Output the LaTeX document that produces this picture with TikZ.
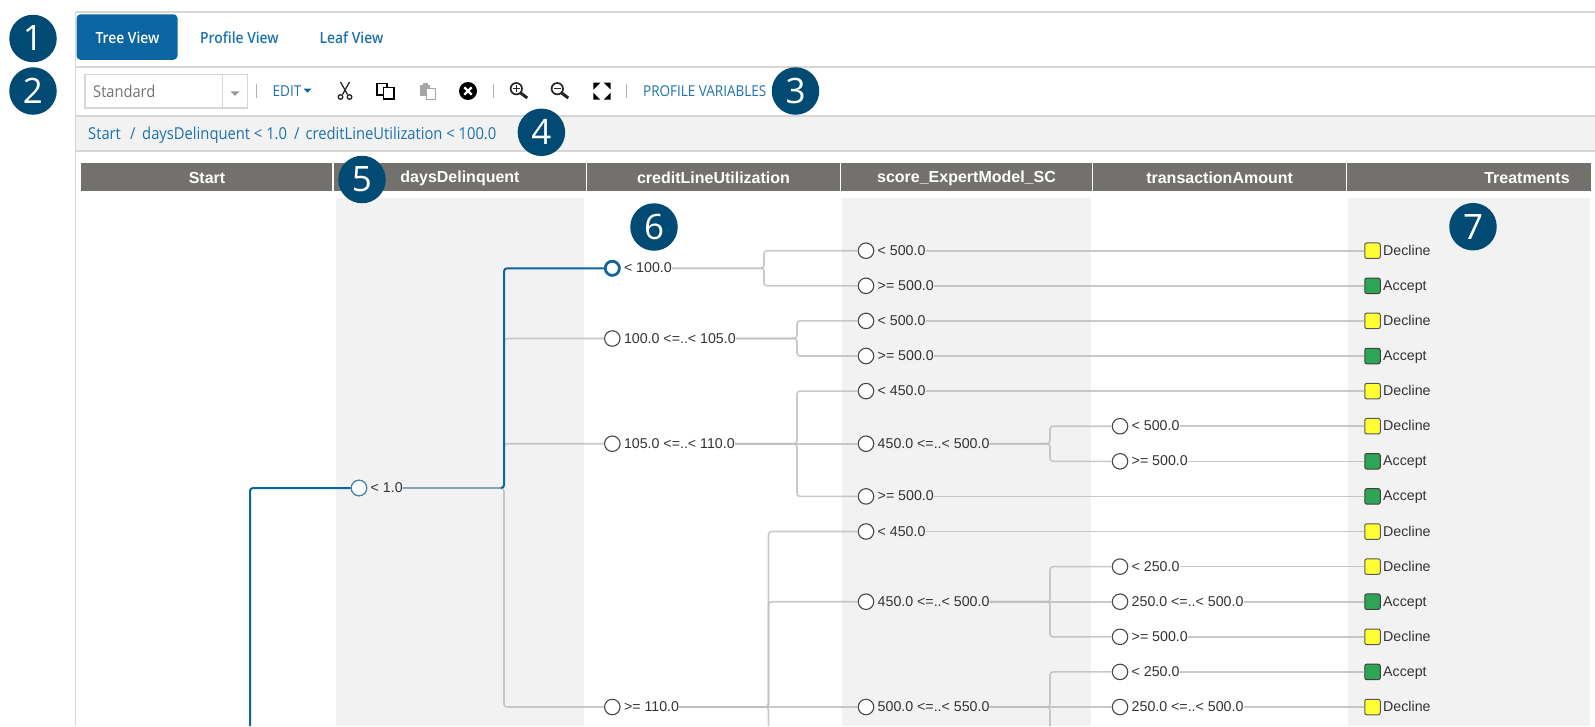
\documentclass[tikz,border=0pt]{standalone}
\usepackage{fontspec}
\usetikzlibrary{calc}
\setmainfont{Liberation Sans}
\newfontfamily\uif[FakeStretch=0.9]{Open Sans}
\newfontfamily\uib[FakeStretch=0.9]{Open Sans Semibold}
\newfontfamily\uir[FakeStretch=0.9]{Open Sans}
\newfontfamily\badgef{Open Sans}
\definecolor{uiblue}{HTML}{0B65A0}
\definecolor{lnk}{HTML}{1B72AB}
\definecolor{badge}{HTML}{004A73}
\definecolor{hdr}{HTML}{73716E}
\definecolor{panel}{HTML}{F2F2F2}
\definecolor{sep}{HTML}{D6D6D6}
\definecolor{ylw}{HTML}{FFFF33}
\definecolor{grn}{HTML}{2EA555}
\tikzset{
  circ/.style={circle,draw=black!72,line width=1.1pt,fill=white,minimum size=15.5pt,inner sep=0pt},
  lab/.style={anchor=west,inner sep=0pt,text=black!80,font=\fontsize{14.2}{16}\selectfont,text height=10pt,text depth=1pt},
  sqr/.style={rectangle,rounded corners=2pt,line width=1pt,minimum size=15.5pt,inner sep=0pt},
  decl/.style={sqr,draw=black!65,fill=ylw},
  acc/.style={sqr,draw=black!75,fill=grn},
  conn/.style={draw=black!25,line width=1.6pt,opacity=.85,rounded corners=3pt},
  hlconn/.style={draw=uiblue,line width=2pt,rounded corners=3pt},
  hdrbox/.style={fill=hdr,text=white,inner sep=0pt,font=\bfseries\fontsize{16}{18}\selectfont},
  badgenode/.style={circle,fill=badge,text=white,minimum size=47.5pt,inner sep=0pt,font=\badgef\fontsize{35}{35}\selectfont},
  tabtext/.style={inner sep=0pt,font=\uib\fontsize{15.4}{17}\selectfont},
  crumb/.style={anchor=west,inner sep=0pt,text=lnk,font=\uif\fontsize{16.4}{18}\selectfont,text height=11pt,text depth=3pt},
  tool/.style={inner sep=0pt,text=lnk,font=\uir\fontsize{15}{17}\selectfont},
  rulel/.style={draw=sep,line width=1.5pt},
  vdiv/.style={draw=black!30,line width=.8pt}
}
\newcommand\tn[4]{\node[circ] (n#1) at (#2,#3) {};\node[lab] (l#1) at (#2+11.5,#3) {#4};}
\newcommand\leaf[4]{\node[#2] (q#1) at (1372.5,#3) {};\node[lab] (t#1) at (1383,#3) {#4};}
\newcommand\hd[3]{\node[hdrbox,minimum width=#2-#1,minimum height=28pt] (#3) at ({(#1+#2)/2},177.3) {};}
\newcommand\brk[3]{\draw[conn] (l#1.east) -- (l#1.east -| #2) -- (#2 |- n#3.west) -- (n#3.west);}
\newcommand\str[2]{\draw[conn] (l#1.east) -- (#2.west);}
\begin{document}
\begin{tikzpicture}[x=1pt,y=-1pt]
\useasboundingbox (0,0) rectangle (1595,726);
\clip (0,0) rectangle (1595,726);
% panels
\fill[panel] (336,198) rectangle (584,726);
\fill[panel] (842,198) rectangle (1090.5,726);
\fill[panel] (1348,198) rectangle (1590,726);
\fill[panel] (75,116) rectangle (1595,151);
% rules
\draw[draw=sep,line width=1pt] (75,12) -- (75,726);
\draw[rulel] (75,12) -- (1595,12);
\draw[rulel] (75,67) -- (1595,67);
\draw[rulel] (75,116) -- (1595,116);
\draw[rulel] (75,151) -- (1595,151);
% tabs
\node[fill=uiblue,rounded corners=4pt,minimum width=101pt,minimum height=45.5pt,inner sep=0pt] (tabbox) at (127,37) {};
\node[tabtext,text=white] (tab1) at (127.5,37.5) {Tree View};
\node[tabtext,text=lnk] (tab2) at (239.5,37.5) {Profile View};
\node[tabtext,text=lnk] (tab3) at (351.5,37.5) {Leaf View};
% combobox
\draw[draw=sep,line width=1.3pt] (85,74.5) rectangle (247.5,108);
\draw[draw=sep,line width=1pt] (222.7,74.5) -- (222.7,108);
\node[anchor=west,inner sep=0pt,text=black!55,font=\uir\fontsize{16.3}{18}\selectfont] (combo) at (93,91.5) {Standard};
\fill[black!40] (230.5,91.3) -- (239.5,91.3) -- (235,95.8) -- cycle;
\draw[vdiv] (256.3,84) -- (256.3,98.3);
\node[tool,anchor=west] (edit) at (272.5,91) {EDIT};
\fill[uiblue] (303.5,88.7) -- (311.5,88.7) -- (307.5,92.7) -- cycle;
% scissors
\begin{scope}[line width=1.3pt,black!85]
\draw (340.5,82) -- (347.5,94.5);
\draw (349.5,82) -- (342.5,94.5);
\draw (340.5,97) circle (2.3);
\draw (349.5,97) circle (2.3);
\end{scope}
% copy
\draw[black,line width=1.4pt,fill=white] (377,83.5) rectangle (387,95);
\draw[black,line width=1.4pt,fill=white] (383.5,87.5) rectangle (394,99);
% paste
\fill[black!35] (420,85) rectangle (430,95.5);
\fill[black!35] (423,82.8) rectangle (427.5,86);
\draw[black!35,line width=1pt,fill=white] (426,88.7) rectangle (435,99.3);
% remove
\fill[black] (468,91) circle (9);
\draw[white,line width=2.4pt] (464.3,87.3) -- (471.7,94.7) (464.3,94.7) -- (471.7,87.3);
\draw[vdiv] (493,84) -- (493,98.3);
% zoom in
\draw[black!85,line width=1.7pt] (516.3,88.7) circle (5.7);
\draw[black!85,line width=3pt] (520.6,93) -- (527.3,98);
\draw[black!85,line width=1.2pt] (513,88.7) -- (519.6,88.7) (516.3,85.4) -- (516.3,92);
% zoom out
\draw[black!85,line width=1.7pt] (557.3,88.7) circle (5.7);
\draw[black!85,line width=3pt] (561.6,93) -- (568.3,98);
\draw[black!85,line width=1.2pt] (554,88.7) -- (560.6,88.7);
% fullscreen
\fill[black] (593.3,82.7) -- (600.3,82.7) -- (593.3,89.7) -- cycle;
\fill[black] (610.7,82.7) -- (603.7,82.7) -- (610.7,89.7) -- cycle;
\fill[black] (593.3,99.7) -- (600.3,99.7) -- (593.3,92.7) -- cycle;
\fill[black] (610.7,99.7) -- (603.7,99.7) -- (610.7,92.7) -- cycle;
\draw[vdiv] (626.6,84) -- (626.6,98.3);
\node[tool,anchor=west] (pv) at (643,91) {PROFILE VARIABLES};
% breadcrumb
\node[crumb] (c1) at (88,135.5) {Start};
\node[crumb] (c2) at (130,135.5) {/};
\node[crumb] (c3) at (142,135.5) {daysDelinquent < 1.0};
\node[crumb] (c4) at (294,135.5) {/};
\node[crumb] (c5) at (305.4,135.5) {creditLineUtilization < 100.0};
% headers
\hd{80.5}{332}{h1}
\hd{333.7}{585.8}{h2}
\hd{586.8}{840}{h3}
\hd{841}{1092.3}{h4}
\hd{1093.3}{1346}{h5}
\hd{1347.3}{1591}{h6}
\node[hdrbox,fill=none] (ht1) at (207,178) {Start};
\node[hdrbox,fill=none] (ht2) at (460,178) {daysDelinquent};
\node[hdrbox,fill=none] (ht3) at (713.5,178) {creditLineUtilization};
\node[hdrbox,fill=none] (ht4) at (966.5,178) {score\_ExpertModel\_SC};
\node[hdrbox,fill=none] (ht5) at (1219.6,178) {transactionAmount};
\node[hdrbox,fill=none] (ht6) at (1527,178) {Treatments};
% trunks and free ends
\coordinate (tA) at (504,0);
\coordinate (tB) at (764,0);
\coordinate (tC) at (797,0);
\coordinate (tD) at (768.5,0);
\coordinate (tE) at (1050,0);
\coordinate (startend) at (250,726);
\coordinate (endD) at (768.5,726);
\coordinate (endE) at (1050,726);
% tree nodes
\tn{d}{359}{488}{< 1.0}
\tn{c1}{612.3}{268.3}{< 100.0}
\tn{c2}{612.3}{338.5}{100.0 <=..< 105.0}
\tn{c3}{612.3}{443.7}{105.0 <=..< 110.0}
\tn{c4}{612.3}{707}{>= 110.0}
\tn{s0}{866}{250.7}{< 500.0}
\tn{s1}{866}{285.8}{>= 500.0}
\tn{s2}{866}{320.9}{< 500.0}
\tn{s3}{866}{356}{>= 500.0}
\tn{s4}{866}{391.1}{< 450.0}
\tn{s5}{866}{443.7}{450.0 <=..< 500.0}
\tn{s7}{866}{496.4}{>= 500.0}
\tn{s8}{866}{531.5}{< 450.0}
\tn{s9}{866}{601.7}{450.0 <=..< 500.0}
\tn{s10}{866}{707}{500.0 <=..< 550.0}
\tn{x5}{1120}{426.2}{< 500.0}
\tn{x6}{1120}{461.3}{>= 500.0}
\tn{x9}{1120}{566.6}{< 250.0}
\tn{x10}{1120}{601.7}{250.0 <=..< 500.0}
\tn{x11}{1120}{636.8}{>= 500.0}
\tn{x12}{1120}{671.9}{< 250.0}
\tn{x13}{1120}{707}{250.0 <=..< 500.0}
\leaf{0}{decl}{250.7}{Decline}
\leaf{1}{acc}{285.8}{Accept}
\leaf{2}{decl}{320.9}{Decline}
\leaf{3}{acc}{356}{Accept}
\leaf{4}{decl}{391.1}{Decline}
\leaf{5}{decl}{426.2}{Decline}
\leaf{6}{acc}{461.3}{Accept}
\leaf{7}{acc}{496.4}{Accept}
\leaf{8}{decl}{531.5}{Decline}
\leaf{9}{decl}{566.6}{Decline}
\leaf{10}{acc}{601.7}{Accept}
\leaf{11}{decl}{636.8}{Decline}
\leaf{12}{acc}{671.9}{Accept}
\leaf{13}{decl}{707}{Decline}
% connectors
\brk{d}{tA}{c2}
\brk{d}{tA}{c3}
\brk{d}{tA}{c4}
\brk{c1}{tB}{s0}
\brk{c1}{tB}{s1}
\brk{c2}{tC}{s2}
\brk{c2}{tC}{s3}
\brk{c3}{tC}{s4}
\str{c3}{ns5}
\brk{c3}{tC}{s7}
\brk{c4}{tD}{s8}
\brk{c4}{tD}{s9}
\str{c4}{ns10}
\draw[conn] (lc4.east) -- (lc4.east -| tD) -- (endD);
\brk{s5}{tE}{x5}
\brk{s5}{tE}{x6}
\brk{s9}{tE}{x9}
\str{s9}{nx10}
\brk{s9}{tE}{x11}
\brk{s10}{tE}{x12}
\str{s10}{nx13}
\draw[conn] (ls10.east) -- (ls10.east -| tE) -- (endE);
\str{s0}{q0}
\str{s1}{q1}
\str{s2}{q2}
\str{s3}{q3}
\str{s4}{q4}
\str{s7}{q7}
\str{s8}{q8}
\str{x5}{q5}
\str{x6}{q6}
\str{x9}{q9}
\str{x10}{q10}
\str{x11}{q11}
\str{x12}{q12}
\str{x13}{q13}
% highlighted path
\draw[hlconn] (startend) -- (startend |- nd.west) -- (nd.west);
\draw[draw=black!30!uiblue!50!white,line width=2pt] (ld.east) -- ($(ld.east -| tA)+(-3,0)$);
\draw[hlconn] ($(ld.east -| tA)+(-3,0)$) -- (ld.east -| tA) -- (tA |- nc1.west) -- (nc1.west);
\node[circ,draw=uiblue,line width=2.6pt,minimum size=14pt] at (nc1) {};
\node[circ,draw=uiblue!80!white,line width=1.1pt] at (nd) {};
% badges
\node[badgenode] (b1) at (33,38.5) {1};
\node[badgenode] (b2) at (33,91) {2};
\node[badgenode] (b3) at (795.5,91) {3};
\node[badgenode] (b4) at (541.4,132.3) {4};
\node[badgenode] (b5) at (362,179.5) {5};
\node[badgenode] (b6) at (654,227) {6};
\node[badgenode] (b7) at (1473,226.7) {7};
\end{tikzpicture}
\end{document}
